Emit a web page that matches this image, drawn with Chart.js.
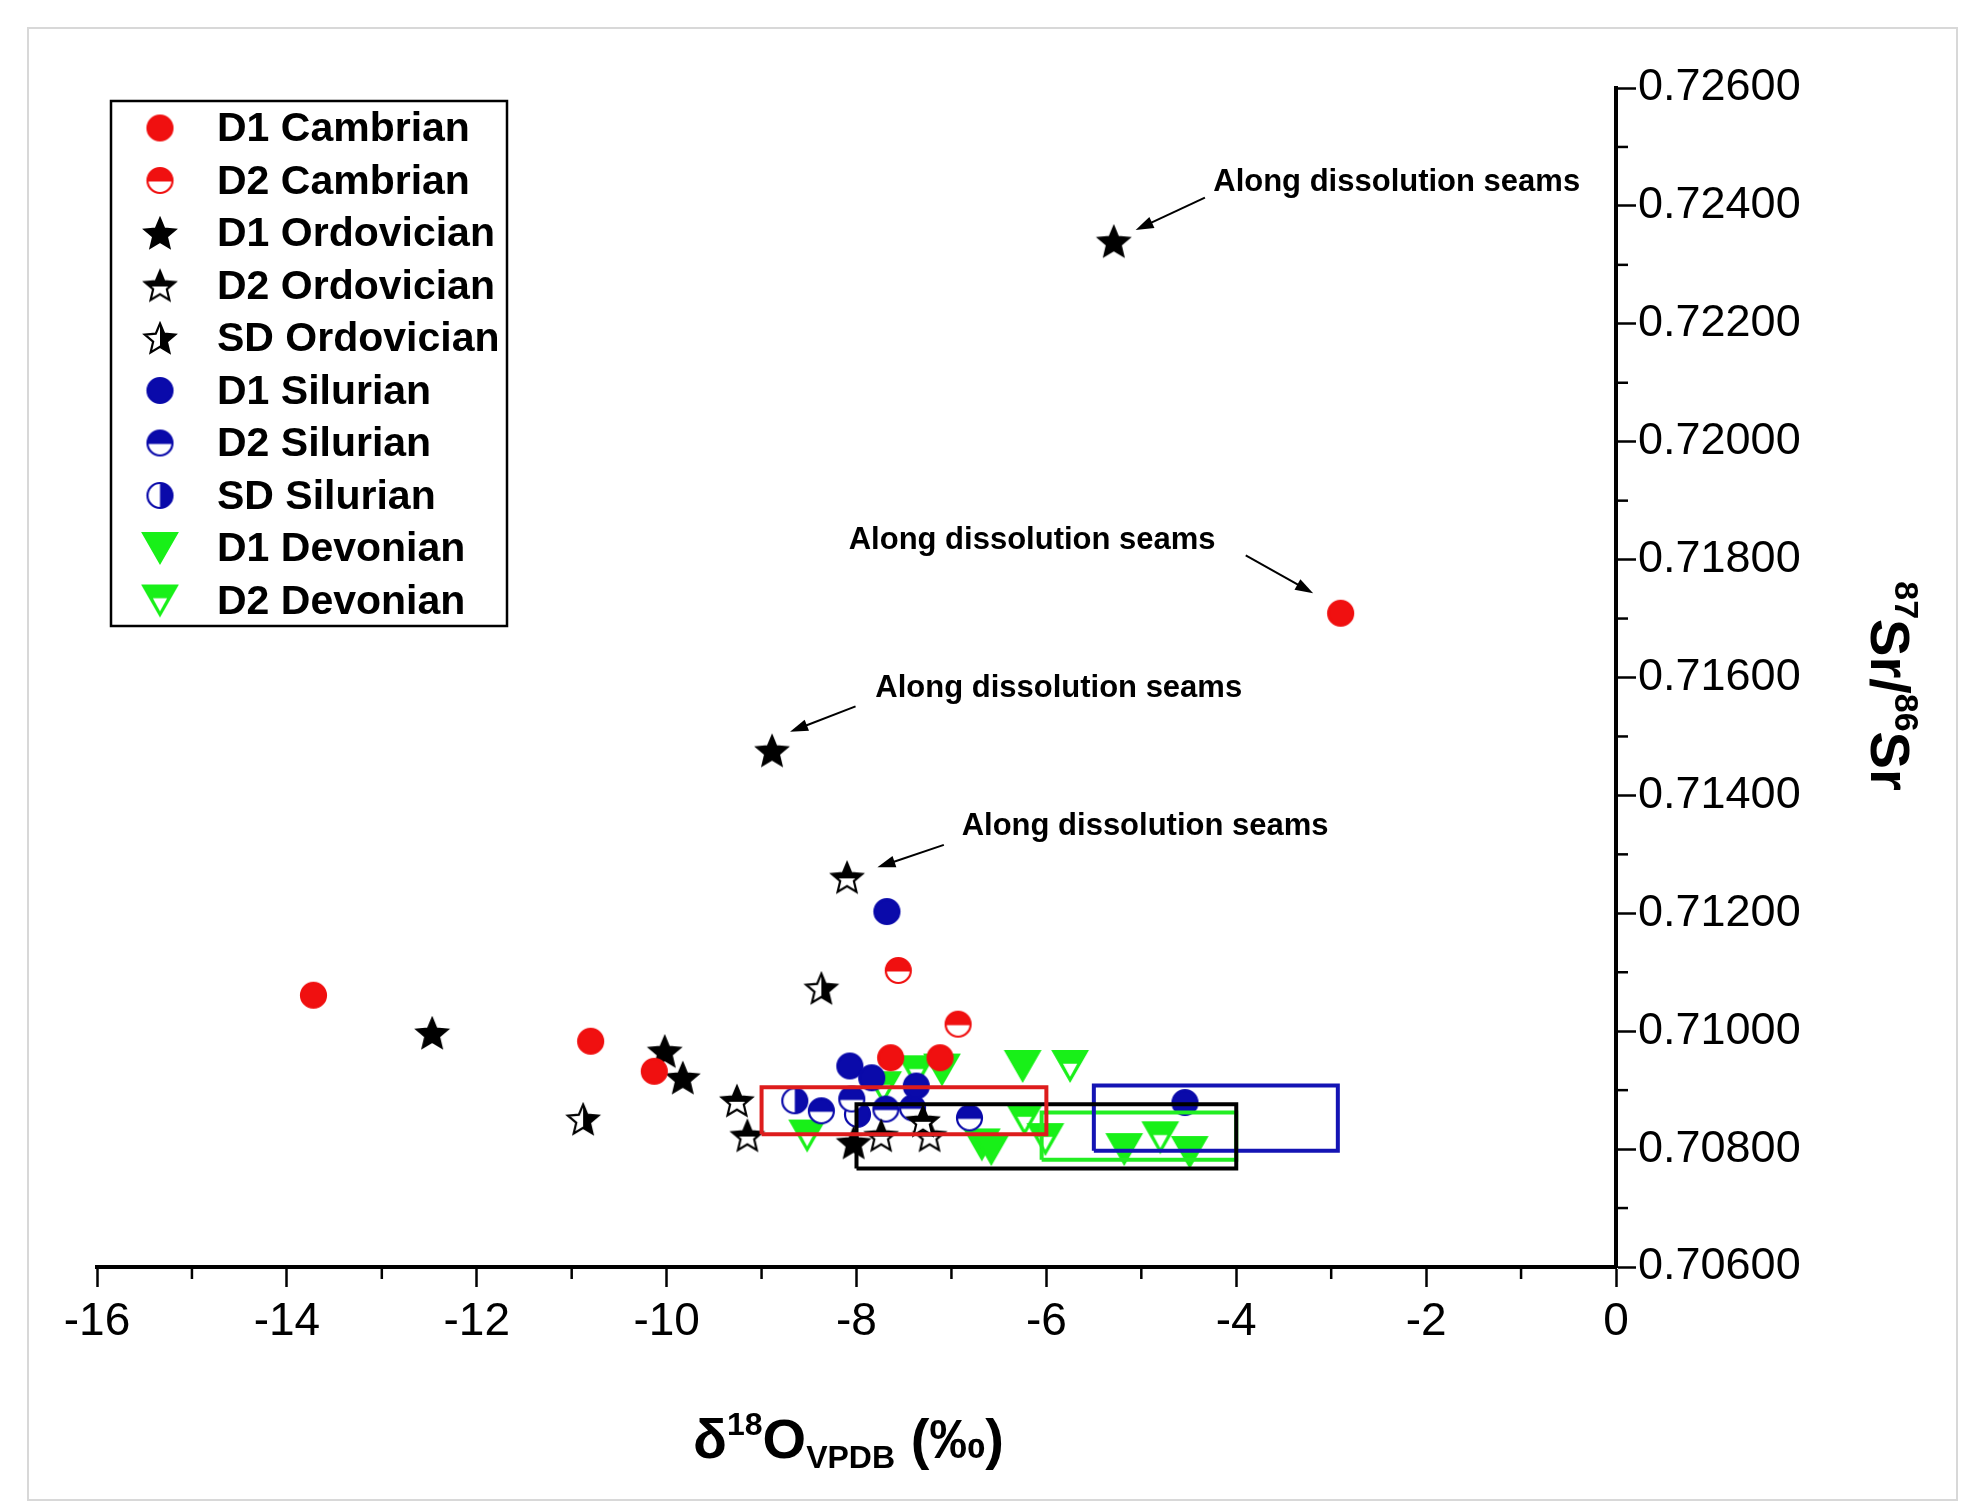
<!DOCTYPE html>
<html>
<head>
<meta charset="utf-8">
<script src="https://cdn.jsdelivr.net/npm/chart.js@4.4.1/dist/chart.umd.min.js"></script>
<style>
  html, body { margin: 0; padding: 0; background: #fff; }
  #wrap { width: 1972px; height: 1509px; }
</style>
</head>
<body>
<div id="wrap"><canvas id="chart" width="1972" height="1509"></canvas></div>
<script>
// δ18O (x) and 87Sr/86Sr (y)
const d1CambrianX = [-13.72, -10.80, -10.13, -7.64, -7.12, -2.90];
const d1CambrianY = [0.71061, 0.70983, 0.70932, 0.70955, 0.70955, 0.71709];
const d2CambrianX = [-7.56, -6.93];
const d2CambrianY = [0.71103, 0.71012];
const d1OrdovicianX = [-5.29, -8.89, -12.47, -10.02, -9.83, -8.03];
const d1OrdovicianY = [0.72340, 0.71476, 0.70997, 0.70966, 0.70921, 0.70811];
const d2OrdovicianX = [-8.10, -9.26, -9.15, -7.74, -7.23, -7.30];
const d2OrdovicianY = [0.71261, 0.70882, 0.70823, 0.70823, 0.70823, 0.70848];
const sdOrdovicianX = [-8.37, -10.88];
const sdOrdovicianY = [0.71073, 0.70851];
const d1SilurianX = [-7.68, -8.07, -7.84, -7.37, -4.54];
const d1SilurianY = [0.71203, 0.70941, 0.70921, 0.70907, 0.70879];
const d2SilurianX = [-8.37, -7.69, -7.41, -6.81, -8.05];
const d2SilurianY = [0.70865, 0.70868, 0.70870, 0.70853, 0.70885];
const sdSilurianX = [-8.65, -7.99];
const sdSilurianY = [0.70882, 0.70859];
const d1DevonianX = [-7.10, -6.25, -6.68, -6.58, -5.18, -4.49];
const d1DevonianY = [0.70935, 0.70941, 0.70808, 0.70800, 0.70800, 0.70795];
const d2DevonianX = [-5.75, -8.52, -7.72, -7.37, -6.23, -6.01, -4.80];
const d2DevonianY = [0.70941, 0.70823, 0.70905, 0.70932, 0.70851, 0.70817, 0.70820];

// seawater ranges drawn as boxes
const boxNames = ['Cambrian', 'Ordovician', 'Silurian', 'Devonian'];
const boxXMin = [-9.0, -8.0, -5.5, -6.05];
const boxXMax = [-6.0, -4.0, -2.93, -4.0];
const boxYMin = [0.70825, 0.70767, 0.70797, 0.70782];
const boxYMax = [0.70905, 0.70876, 0.70908, 0.70862];

// "Along dissolution seams" notes: text centre, arrow tail, arrow head (data units)
const noteTexts = ['Along dissolution seams', 'Along dissolution seams', 'Along dissolution seams', 'Along dissolution seams'];
const noteX = [-2.31, -6.15, -5.87, -4.96];
const noteY = [0.72440, 0.71832, 0.71581, 0.71348];
const noteTailX = [-4.33, -3.90, -8.01, -7.08];
const noteTailY = [0.72414, 0.71807, 0.71551, 0.71316];
const noteHeadX = [-5.06, -3.19, -8.70, -7.78];
const noteHeadY = [0.72359, 0.71743, 0.71508, 0.71278];

const xTicks = [-16, -14, -12, -10, -8, -6, -4, -2, 0];
const yTicks = [0.706, 0.708, 0.710, 0.712, 0.714, 0.716, 0.718, 0.720, 0.722, 0.724, 0.726];

const RED = '#f01010';
const BLUE = '#0a0aaa';
const GREEN = '#18f018';
const FONT = "'Liberation Sans', Arial, sans-serif";

// little canvases used as point styles (Origin-like half filled symbols)
function makeMarker(shape, color, mode, size) {
  const pad = 3;
  const c = document.createElement('canvas');
  c.width = c.height = size + pad * 2;
  const g = c.getContext('2d');
  const m = c.width / 2, r = size / 2;
  const p = new Path2D();
  if (shape === 'circle') {
    p.arc(m, m, r, 0, Math.PI * 2);
  } else if (shape === 'star') {
    for (let i = 0; i < 10; i++) {
      const a = -Math.PI / 2 + i * Math.PI / 5;
      const rr = i % 2 ? r * 0.45 : r;
      const px = m + rr * Math.cos(a), py = m + 1.5 + rr * Math.sin(a);
      i ? p.lineTo(px, py) : p.moveTo(px, py);
    }
    p.closePath();
  } else {
    const h = size * 0.87;
    p.moveTo(m - r, m - h / 2);
    p.lineTo(m + r, m - h / 2);
    p.lineTo(m, m + h / 2);
    p.closePath();
  }
  g.fillStyle = '#fff';
  g.fill(p);
  g.save();
  g.clip(p);
  g.fillStyle = color;
  if (mode === 'top') g.fillRect(0, 0, c.width, m + 1);
  else if (mode === 'right') g.fillRect(m, 0, c.width, c.height);
  else g.fillRect(0, 0, c.width, c.height);
  g.restore();
  if (mode === 'tip') {
    const h = size * 0.87, top = m - h / 2;
    g.beginPath();
    g.moveTo(m - r * 0.42, top + h * 0.42);
    g.lineTo(m + r * 0.42, top + h * 0.42);
    g.lineTo(m, top + h * 0.86);
    g.closePath();
    g.fillStyle = '#fff';
    g.fill();
  }
  g.strokeStyle = color;
  g.lineWidth = 2.2;
  g.stroke(p);
  return c;
}

const series = [
  { label: 'D1 Cambrian', x: d1CambrianX, y: d1CambrianY, style: makeMarker('circle', RED, 'full', 25) },
  { label: 'D2 Cambrian', x: d2CambrianX, y: d2CambrianY, style: makeMarker('circle', RED, 'top', 25) },
  { label: 'D1 Ordovician', x: d1OrdovicianX, y: d1OrdovicianY, style: makeMarker('star', '#000', 'full', 32) },
  { label: 'D2 Ordovician', x: d2OrdovicianX, y: d2OrdovicianY, style: makeMarker('star', '#000', 'top', 32) },
  { label: 'SD Ordovician', x: sdOrdovicianX, y: sdOrdovicianY, style: makeMarker('star', '#000', 'right', 32) },
  { label: 'D1 Silurian', x: d1SilurianX, y: d1SilurianY, style: makeMarker('circle', BLUE, 'full', 25) },
  { label: 'D2 Silurian', x: d2SilurianX, y: d2SilurianY, style: makeMarker('circle', BLUE, 'top', 25) },
  { label: 'SD Silurian', x: sdSilurianX, y: sdSilurianY, style: makeMarker('circle', BLUE, 'right', 25) },
  { label: 'D1 Devonian', x: d1DevonianX, y: d1DevonianY, style: makeMarker('tri', GREEN, 'full', 34) },
  { label: 'D2 Devonian', x: d2DevonianX, y: d2DevonianY, style: makeMarker('tri', GREEN, 'tip', 34) },
];
const boxColors = ['#dd1c1c', '#000000', '#1414b4', '#22ee22'];

const pointSets = series.map(s => ({
  label: s.label,
  data: s.x.map((x, i) => ({ x: x, y: s.y[i] })),
  pointStyle: s.style,
  pointRadius: 12,
  showLine: false,
}));

// boxes are closed line datasets, drawn above the symbols
const boxSets = boxNames.map((name, i) => ({
  label: name + ' range',
  order: -1,
  showLine: true,
  pointRadius: 0,
  borderColor: boxColors[i],
  borderWidth: 4,
  fill: false,
  data: [
    { x: boxXMin[i], y: boxYMin[i] }, { x: boxXMax[i], y: boxYMin[i] },
    { x: boxXMax[i], y: boxYMax[i] }, { x: boxXMin[i], y: boxYMax[i] },
    { x: boxXMin[i], y: boxYMin[i] },
  ],
}));

function drawRich(ctx, parts, cx, cy, rot) {
  ctx.save();
  ctx.translate(cx, cy);
  ctx.rotate(rot);
  ctx.textBaseline = 'alphabetic';
  ctx.textAlign = 'left';
  let total = 0;
  parts.forEach(p => { ctx.font = 'bold ' + p.size + 'px ' + FONT; total += ctx.measureText(p.t).width; });
  let x = -total / 2;
  parts.forEach(p => {
    ctx.font = 'bold ' + p.size + 'px ' + FONT;
    ctx.fillText(p.t, x, p.dy || 0);
    x += ctx.measureText(p.t).width;
  });
  ctx.restore();
}

function arrow(ctx, x1, y1, x2, y2) {
  const a = Math.atan2(y2 - y1, x2 - x1), len = 18, w = 6;
  ctx.beginPath();
  ctx.moveTo(x1, y1);
  ctx.lineTo(x2 - Math.cos(a) * len * 0.8, y2 - Math.sin(a) * len * 0.8);
  ctx.stroke();
  ctx.beginPath();
  ctx.moveTo(x2, y2);
  ctx.lineTo(x2 - len * Math.cos(a) + w * Math.sin(a), y2 - len * Math.sin(a) - w * Math.cos(a));
  ctx.lineTo(x2 - len * Math.cos(a) - w * Math.sin(a), y2 - len * Math.sin(a) + w * Math.cos(a));
  ctx.closePath();
  ctx.fill();
}

const decor = {
  id: 'decor',
  beforeDraw(chart) {
    const ctx = chart.ctx;
    ctx.save();
    ctx.fillStyle = '#fff';
    ctx.fillRect(0, 0, chart.width, chart.height);
    ctx.strokeStyle = '#d8d8d8';
    ctx.lineWidth = 2;
    ctx.strokeRect(28, 28, 1929, 1472);
    ctx.restore();
  },
  afterDraw(chart) {
    const ctx = chart.ctx, xs = chart.scales.x, ys = chart.scales.y, area = chart.chartArea;
    ctx.save();
    ctx.strokeStyle = '#000';
    ctx.fillStyle = '#000';
    // minor ticks
    ctx.lineWidth = 2.5;
    for (let i = 0; i < xTicks.length - 1; i++) {
      const px = xs.getPixelForValue((xTicks[i] + xTicks[i + 1]) / 2);
      ctx.beginPath(); ctx.moveTo(px, area.bottom); ctx.lineTo(px, area.bottom + 12); ctx.stroke();
    }
    for (let i = 0; i < yTicks.length - 1; i++) {
      const py = ys.getPixelForValue((yTicks[i] + yTicks[i + 1]) / 2);
      ctx.beginPath(); ctx.moveTo(area.right, py); ctx.lineTo(area.right + 12, py); ctx.stroke();
    }
    // notes with arrows
    ctx.font = 'bold 31px ' + FONT;
    ctx.textAlign = 'center';
    ctx.textBaseline = 'middle';
    ctx.lineWidth = 2;
    noteTexts.forEach((t, i) => {
      ctx.fillText(t, xs.getPixelForValue(noteX[i]), ys.getPixelForValue(noteY[i]));
      arrow(ctx, xs.getPixelForValue(noteTailX[i]), ys.getPixelForValue(noteTailY[i]),
        xs.getPixelForValue(noteHeadX[i]), ys.getPixelForValue(noteHeadY[i]));
    });
    // legend
    ctx.lineWidth = 2.5;
    ctx.strokeRect(111, 101, 396, 525);
    ctx.font = 'bold 41px ' + FONT;
    ctx.textAlign = 'left';
    series.forEach((s, i) => {
      const cy = 128 + i * 52.5;
      ctx.drawImage(s.style, 160 - s.style.width / 2, cy - s.style.height / 2);
      ctx.fillText(s.label, 217, cy + 2);
    });
    // axis titles
    drawRich(ctx, [
      { t: 'δ', size: 56 }, { t: '18', size: 32, dy: -23 }, { t: 'O', size: 56 },
      { t: 'VPDB', size: 32, dy: 10 }, { t: ' (‰)', size: 56 },
    ], (area.left + area.right) / 2 - 8, 1458, 0);
    drawRich(ctx, [
      { t: '87', size: 34, dy: -24 }, { t: 'Sr/', size: 56 },
      { t: '86', size: 34, dy: -24 }, { t: 'Sr', size: 56 },
    ], 1871, 686, Math.PI / 2);
    ctx.restore();
  },
};

Chart.defaults.font.family = FONT;
Chart.defaults.color = '#000';

new Chart(document.getElementById('chart'), {
  type: 'scatter',
  data: { datasets: boxSets.concat(pointSets) },
  options: {
    responsive: false,
    animation: false,
    devicePixelRatio: 1,
    events: [],
    layout: { padding: { left: 97, top: 88, right: 0, bottom: 0 } },
    plugins: { legend: { display: false }, tooltip: { enabled: false } },
    scales: {
      x: {
        type: 'linear',
        min: -16, max: 0,
        afterFit(scale) { scale.height = 242; },
        border: { display: true, color: '#000', width: 4 },
        grid: { drawOnChartArea: false, drawTicks: true, tickLength: 20, tickWidth: 2.5, tickColor: '#000' },
        ticks: { stepSize: 2, padding: 8, font: { size: 46 }, color: '#000', callback: v => String(v) },
      },
      y: {
        type: 'linear',
        position: 'right',
        min: 0.706, max: 0.726,
        afterFit(scale) { scale.width = 356; },
        border: { display: true, color: '#000', width: 4 },
        grid: { drawOnChartArea: false, drawTicks: true, tickLength: 20, tickWidth: 2.5, tickColor: '#000' },
        ticks: { stepSize: 0.002, padding: 2, font: { size: 45 }, color: '#000', callback: v => v.toFixed(5) },
      },
    },
  },
  plugins: [decor],
});
</script>
</body>
</html>
